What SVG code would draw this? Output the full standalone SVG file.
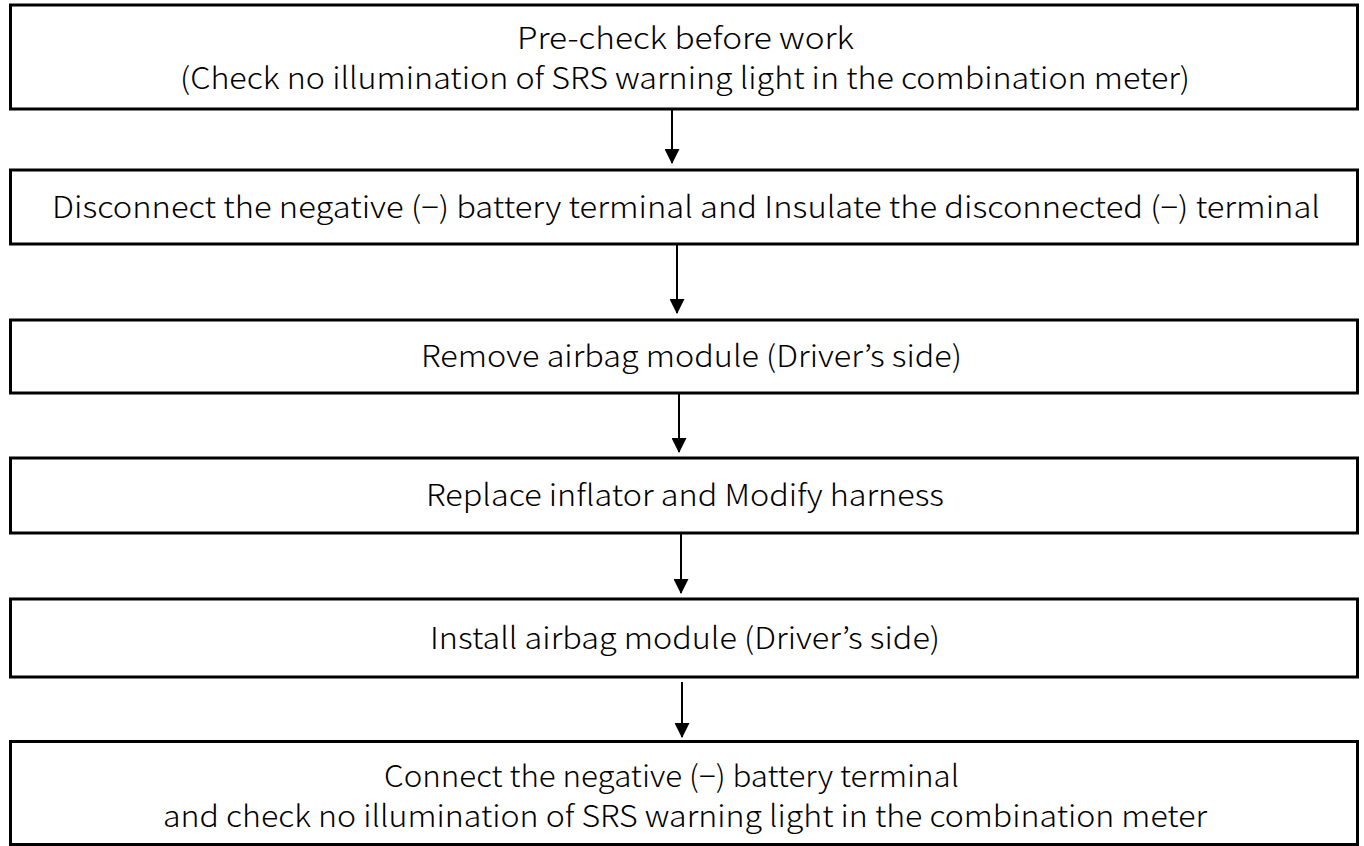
<svg xmlns="http://www.w3.org/2000/svg" width="1364" height="846" viewBox="0 0 1364 846">
<defs>
<style>
.box{fill:#fff;stroke:#000;stroke-width:3}
.t{font-family:"Noto Sans CJK JP","Liberation Sans",sans-serif;font-size:30px;font-weight:300;fill:#000;text-anchor:start}
.c{stroke:#000;stroke-width:2;fill:none}
</style>
<marker id="ah" markerWidth="16" markerHeight="15" refX="15" refY="8" orient="auto" markerUnits="userSpaceOnUse" viewBox="0 0 16 16">
<path d="M0,0 L16,8 L0,16 Z" fill="#000"/>
</marker>
</defs>
<rect width="1364" height="846" fill="#fff"/>
<g id="n1">
<rect class="box" x="10.5" y="5" width="1347" height="104"/>
<text class="t" x="517" y="49" textLength="337" lengthAdjust="spacingAndGlyphs">Pre-check before work</text>
<text class="t" x="180" y="89" textLength="1010" lengthAdjust="spacingAndGlyphs">(Check no illumination of SRS warning light in the combination meter)</text>
</g>
<g id="n2">
<rect class="box" x="10.5" y="170" width="1347" height="74"/>
<text class="t" x="52" y="218" textLength="1268" lengthAdjust="spacingAndGlyphs">Disconnect the negative (−) battery terminal and Insulate the disconnected (−) terminal</text>
</g>
<g id="n3">
<rect class="box" x="10.5" y="320" width="1347" height="73"/>
<text class="t" x="421" y="367" textLength="541" lengthAdjust="spacingAndGlyphs">Remove airbag module (Driver’s side)</text>
</g>
<g id="n4">
<rect class="box" x="10.5" y="458" width="1347" height="75"/>
<text class="t" x="426" y="506" textLength="518" lengthAdjust="spacingAndGlyphs">Replace inflator and Modify harness</text>
</g>
<g id="n5">
<rect class="box" x="10.5" y="599" width="1347" height="78"/>
<text class="t" x="430" y="649" textLength="510" lengthAdjust="spacingAndGlyphs">Install airbag module (Driver’s side)</text>
</g>
<g id="n6">
<rect class="box" x="10.5" y="741.5" width="1347" height="103"/>
<text class="t" x="384" y="787" textLength="575" lengthAdjust="spacingAndGlyphs">Connect the negative (−) battery terminal</text>
<text class="t" x="163" y="827" textLength="1044" lengthAdjust="spacingAndGlyphs">and check no illumination of SRS warning light in the combination meter</text>
</g>
<g id="connectors">
<line class="c" x1="672" y1="110" x2="672" y2="163" marker-end="url(#ah)"/>
<line class="c" x1="677" y1="245" x2="677" y2="313" marker-end="url(#ah)"/>
<line class="c" x1="679" y1="394" x2="679" y2="452" marker-end="url(#ah)"/>
<line class="c" x1="681" y1="534" x2="681" y2="593" marker-end="url(#ah)"/>
<line class="c" x1="682" y1="682" x2="682" y2="737" marker-end="url(#ah)"/>
</g>
</svg>
